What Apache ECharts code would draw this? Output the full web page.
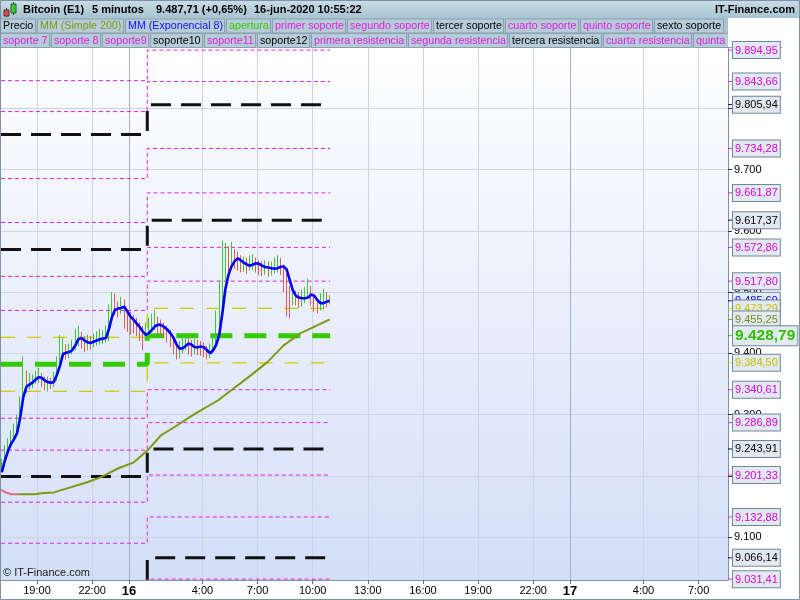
<!DOCTYPE html>
<html><head><meta charset="utf-8">
<script src="https://cdn.jsdelivr.net/npm/echarts@6/dist/echarts.min.js"></script>
<style>html,body{margin:0;padding:0;background:#fff}#c{width:800px;height:600px}</style>
</head><body><div id="c"></div>
<script>
// ---------- DATA ----------
// Hours counted from 15-jun-2020 00:00
const xMin = 17.04, xMax = 56.6, yMin = 9030, yMax = 9900;
const dayBreakHour = 25;      // 16-jun 01:00 levels switch
const levelEndHour = 34.95;   // end of drawn levels
const barStartHour = 17 + 5/60;   // first bar 15-jun 17:05
const barStepHours = 10/60;       // 10-minute bars
const firstOpen = 9210;

const barClose = [
 9218,9240,9252,9262,9270,9285,9320,9350,9348,9352,
 9355,9362,9364,9357,9350,9352,9350,9358,9380,9398,
 9405,9400,9404,9410,9422,9428,9422,9416,9418,9416,
 9420,9423,9424,9425,9428,9455,9478,9475,9470,9478,
 9470,9455,9450,9448,9442,9435,9428,9438,9445,9448,
 9450,9445,9442,9436,9430,9420,9410,9402,9408,9415,
 9418,9412,9408,9411,9410,9408,9404,9398,9404,9418,
 9440,9480,9540,9560,9550,9556,9553,9548,9545,9546,
 9544,9547,9549,9543,9540,9538,9540,9537,9538,9542,
 9545,9540,9525,9495,9488,9492,9490,9488,9491,9495,
 9505,9492,9480,9478,9484,9488,9486,9487.71];
const barHigh = [
 9228,9250,9262,9275,9285,9300,9330,9395,9372,9368,
 9366,9372,9376,9368,9362,9362,9360,9370,9395,9430,
 9425,9415,9416,9422,9440,9445,9435,9428,9430,9428,
 9432,9436,9440,9438,9445,9480,9500,9498,9485,9492,
 9488,9472,9468,9462,9458,9450,9445,9450,9458,9465,
 9470,9460,9455,9450,9445,9438,9428,9418,9420,9428,
 9430,9425,9422,9424,9422,9420,9418,9412,9416,9432,
 9470,9520,9584,9580,9575,9582,9570,9566,9560,9558,
 9556,9560,9562,9556,9552,9550,9552,9550,9550,9556,
 9560,9556,9545,9530,9510,9505,9502,9500,9504,9508,
 9522,9510,9495,9490,9498,9505,9500,9495];
const barLow = [
 9205,9215,9235,9248,9258,9265,9280,9320,9335,9340,
 9343,9350,9352,9345,9340,9338,9342,9345,9355,9378,
 9392,9390,9392,9398,9405,9412,9408,9402,9405,9406,
 9410,9412,9414,9415,9418,9420,9455,9462,9458,9464,
 9440,9435,9430,9432,9428,9420,9405,9420,9428,9435,
 9438,9432,9430,9425,9418,9410,9398,9390,9392,9400,
 9405,9398,9395,9398,9397,9396,9394,9390,9392,9400,
 9410,9430,9470,9520,9530,9538,9538,9535,9532,9533,
 9530,9535,9536,9532,9528,9526,9528,9525,9527,9530,
 9532,9528,9500,9460,9457,9478,9478,9474,9476,9482,
 9490,9478,9468,9465,9470,9472,9475,9480];
const emaValues = [
 9206,9225,9240,9252,9260,9270,9295,9328,9345,9349,
 9352,9357,9361,9360,9356,9353,9352,9353,9365,9380,
 9399,9401,9402,9405,9413,9423,9425,9421,9418,9417,
 9419,9421,9423,9424,9425,9440,9460,9471,9473,9474,
 9476,9468,9460,9455,9449,9443,9436,9430,9433,9438,
 9444,9447,9446,9443,9439,9433,9426,9415,9408,9408,
 9412,9416,9414,9410,9410,9411,9410,9405,9400,9405,
 9414,9430,9465,9505,9528,9542,9550,9555,9552,9548,
 9545,9543,9545,9547,9546,9543,9541,9540,9539,9538,
 9539,9541,9542,9537,9520,9503,9494,9491,9490,9490,
 9491,9496,9494,9487,9482,9482,9484,9485.69];
const emaLast = 9485.69;

const smaRedHours  = [17.04, 17.3, 17.6, 17.98];
const smaRedValues = [9177, 9173, 9170, 9170];
const smaHours  = [17.98,18.84,19.38,19.92,20.68,21.77,22.48,23.40,24.27,25.03,25.74,26.55,27.37,27.91,28.84,29.71,30.63,31.55,32.42,33.35,34.27,34.92];
const smaValues = [9170,9170,9172,9173,9180,9190,9198,9212,9222,9242,9266,9281,9297,9307,9323,9343,9364,9386,9413,9433,9446,9455.25];
const smaLast = 9455.25;

// support / resistance levels: value on 15-jun (left) and on 16-jun (right)
const levelsDay15 = [9845.1,9794.6,9757.0,9685.3,9613.6,9569.6,9525.5,9470.0,9426.0,9382.0,9338.0,9294.0,9242.0,9199.0,9157.0,9090.0,9024.0,8990.0];
const levelsDay16 = [9894.95,9843.66,9805.94,9734.28,9661.87,9617.37,9572.86,9517.80,9473.29,9428.79,9384.50,9340.61,9286.89,9243.91,9201.33,9132.88,9066.14,9031.41];
const levelKinds  = ['p','p','b','p','p','b','p','p','y','g','y','p','p','b','p','p','b','p'];

const xTickHours  = [19,22,24,28,31,34,37,40,43,46,48,52,55];
const xTickLabels = ['19:00','22:00','16','4:00','7:00','10:00','13:00','16:00','19:00','22:00','17','4:00','7:00'];
const dayHours = [24, 48];
const yTicks = [9100,9200,9300,9400,9500,9600,9700,9800];

const titleParts = ['Bitcoin (E1)','5 minutos','9.487,71 (+0,65%)','16-jun-2020 10:55:22'];
const legendRow1 = ['Precio','MM (Simple 200)','MM (Exponencial 8)','apertura','primer soporte','segundo soporte','tercer soporte','cuarto soporte','quinto soporte','sexto soporte'];
const legendRow1Kinds = ['k','o','e','g','p','p','k','p','p','k'];
const legendRow2 = ['soporte 7','soporte 8','soporte9','soporte10','soporte11','soporte12','primera resistencia','segunda resistencia','tercera resistencia','cuarta resistencia','quinta resistencia'];
const legendRow2Kinds = ['p','p','p','k','p','k','p','p','k','p','p'];

// ---------- STYLE ----------
const FONT = '"Liberation Sans", Arial, sans-serif';
const COL = {p:'#e61ee6', b:'#111111', k:'#000000', y:'#d2c800', g:'#33cc00', o:'#7c9a14', e:'#0000ff'};
const LABEL_TXT = {p:'#dd00dd', b:'#000000', y:'#c8be00', g:'#2fc000'};
const levelStyle = {
  p:{width:1, type:[4,3]},
  b:{width:3, type:[20,10]},
  y:{width:1.3, type:[14,12]},
  g:{width:5, type:[22,12]}
};

function fmtNum(v, dec){
  const s = v.toFixed(dec);
  let parts = s.split('.');
  let ip = parts[0].replace(/\B(?=(\d{3})+(?!\d))/g, '.');
  return parts[1] ? ip + ',' + parts[1] : ip;
}

function axisLabelMark(value, color, txtColor, z, big){
  return {
    silent:true, symbol:'none', z:z, animation:false,
    lineStyle:{width:1, color:'rgba(0,0,0,0)', type:'solid'},
    data:[{yAxis:value}],
    label:{
      show:true, position:'end', distance:0,
      formatter:'{t|}{b|' + fmtNum(value,2) + '}',
      rich:{
        t:{width:5, height:1, backgroundColor:color},
        b:{color:txtColor, fontFamily:FONT, fontSize: big?15.5:11, fontWeight: big?'bold':'normal',
           backgroundColor:'#e3e9f1', borderColor:'#71879a', borderWidth:1,
           padding: big?[2,2,1,2]:[3,2,2,2], lineHeight: big?16:11}
      }
    }
  };
}

// ---------- SERIES ----------
const candleData = barClose.map((c,i)=>{
  const o = i===0 ? firstOpen : barClose[i-1];
  return [barStartHour + i*barStepHours, o, c, barLow[i], barHigh[i]];
});
const emaData = emaValues.map((v,i)=>[barStartHour + i*barStepHours, v]);

const series = [];
series.push({
  type:'line', data:[], silent:true, z:1,
  markLine:{silent:true, symbol:'none', z:1, animation:false,
    lineStyle:{color:'#a5b0c8', width:1, type:'solid'}, label:{show:false},
    data: dayHours.map(h=>({xAxis:h}))}
});
levelKinds.forEach((k,i)=>{
  const L = levelsDay15[i], R = levelsDay16[i];
  series.push({
    type:'line', z:2, silent:true, showSymbol:false, animation:false,
    data:[[xMin,L],[dayBreakHour,L],[dayBreakHour,R],[levelEndHour,R]],
    lineStyle:{color:COL[k], width:levelStyle[k].width, type:levelStyle[k].type, cap:'butt'},
    markLine: axisLabelMark(R, COL[k], LABEL_TXT[k], 20+2*i, k==='g')
  });
});
series.push({
  type:'line', z:3, silent:true, showSymbol:false, animation:false,
  data: smaRedHours.map((h,i)=>[h, smaRedValues[i]]),
  lineStyle:{color:'#e2687a', width:2}
});
series.push({
  type:'line', z:3, silent:true, showSymbol:false, animation:false,
  data: smaHours.map((h,i)=>[h, smaValues[i]]),
  lineStyle:{color:COL.o, width:2},
  markLine: axisLabelMark(smaLast, COL.o, '#6f8c10', 20+2*9-1, false)
});
series.push({
  type:'candlestick', z:4, silent:true, animation:false,
  data: candleData, encode:{x:0, y:[1,2,3,4]},
  barWidth:1,
  itemStyle:{color:'#3cc43c', color0:'#e05a5a', borderColor:'#3cc43c', borderColor0:'#e05a5a', borderWidth:1}
});
series.push({
  type:'line', z:5, silent:true, showSymbol:false, animation:false,
  data: emaData,
  lineStyle:{color:COL.e, width:2.6},
  markLine: axisLabelMark(emaLast, COL.e, '#0000ff', 20+2*8-1, false)
});

// ---------- GRAPHICS (header / legend) ----------
const measure = (()=>{const c=document.createElement('canvas').getContext('2d');
  return (t,f)=>{c.font=f; return c.measureText(t).width;};})();
const legFont = '10.7px "Liberation Sans"';
const legTxtCol = {k:'#000000', o:'#7c9a14', e:'#1010ff', g:'#33cc00', p:'#e01ee0'};

const graphics = [];
graphics.push({type:'rect', z:10, shape:{x:0,y:0,width:800,height:18},
  style:{fill:{type:'linear',x:0,y:0,x2:0,y2:1,colorStops:[{offset:0,color:'#c9dde7'},{offset:1,color:'#a8c3d1'}]}}});
// small candle icon
graphics.push({type:'line', z:11, shape:{x1:6.5,y1:8,x2:6.5,y2:17}, style:{stroke:'#333',lineWidth:1}});
graphics.push({type:'rect', z:11, shape:{x:4,y:10,width:5,height:6}, style:{fill:'#e04848',stroke:'#553333',lineWidth:1}});
graphics.push({type:'line', z:11, shape:{x1:13.5,y1:2,x2:13.5,y2:15}, style:{stroke:'#333',lineWidth:1}});
graphics.push({type:'rect', z:11, shape:{x:11,y:4,width:5,height:9}, style:{fill:'#38c838',stroke:'#335533',lineWidth:1}});
const titleX = [23, 92, 156, 254];
titleParts.forEach((t,i)=>graphics.push({type:'text', z:11, x:titleX[i], y:10,
  style:{text:t, font:'bold 11px '+FONT, fill:'#000', textVerticalAlign:'middle'}}));
graphics.push({type:'text', z:11, x:795, y:10,
  style:{text:'IT-Finance.com', font:'bold 11px '+FONT, fill:'#000', textAlign:'right', textVerticalAlign:'middle'}});

function legendRow(names, kinds, y){
  let x = 0;
  names.forEach((n,i)=>{
    const w = Math.round(measure(n, legFont) + 4.4);
    graphics.push({type:'rect', z:10, shape:{x:x+0.5,y:y+0.5,width:w,height:14},
      style:{fill:'#b6ccd8', stroke:'#8aa0ae', lineWidth:1}});
    graphics.push({type:'text', z:11, x:x+3, y:y+8,
      style:{text:n, font:legFont, fill:legTxtCol[kinds[i]], textVerticalAlign:'middle'}});
    x += w + 2;
  });
}
graphics.push({type:'rect', z:9, shape:{x:0,y:18,width:728,height:30}, style:{fill:'#aac3d0'}});
legendRow(legendRow1, legendRow1Kinds, 18.5);
legendRow(legendRow2, legendRow2Kinds, 33);
graphics.push({type:'rect', z:12, shape:{x:728,y:18,width:72,height:29}, style:{fill:'#ffffff'}});
graphics.push({type:'text', z:103, x:3, y:573,
  style:{text:'\u00a9 IT-Finance.com', font:'11px '+FONT, fill:'#1a1a1a', textVerticalAlign:'middle'}});
graphics.push({type:'rect', z:104, shape:{x:0.5,y:0.5,width:799,height:599},
  style:{fill:null, stroke:'#7d93a3', lineWidth:1}});
graphics.push({type:'line', z:104, shape:{x1:0.5,y1:47,x2:0.5,y2:580}, style:{stroke:'#7d93a3',lineWidth:1}});

// ---------- CHART ----------
const chart = echarts.init(document.getElementById('c'), null, {renderer:'canvas', width:800, height:600});
chart.setOption({
  animation:false,
  backgroundColor:'#ffffff',
  textStyle:{fontFamily:FONT},
  grid:{left:1, right:72, top:47, bottom:20, show:true, borderWidth:0,
    backgroundColor:{type:'linear',x:0,y:0,x2:0,y2:1,colorStops:[{offset:0,color:'#ffffff'},{offset:1,color:'#d3def8'}]}},
  xAxis:{type:'value', min:xMin, max:xMax,
    axisLine:{show:true, onZero:false, lineStyle:{color:'#7d93a3'}},
    axisTick:{show:true, customValues:xTickHours, length:4, lineStyle:{color:'#5d7180'}},
    axisLabel:{customValues:xTickHours, color:'#000', fontSize:11, fontFamily:FONT, margin:5,
      formatter:(v)=>{const i = xTickHours.indexOf(Math.round(v*1000)/1000); if(i<0) return '';
        return dayHours.indexOf(xTickHours[i])>=0 ? '{d|'+xTickLabels[i]+'}' : xTickLabels[i];},
      rich:{d:{fontWeight:'bold', fontSize:13, fontFamily:FONT, color:'#000'}}},
    splitLine:{show:true, lineStyle:{color:'#cdd4e4', width:1}}
  },
  yAxis:{type:'value', position:'right', min:yMin, max:yMax, scale:true,
    axisLine:{show:true, lineStyle:{color:'#7d93a3'}},
    axisTick:{show:true, customValues:yTicks, length:4, lineStyle:{color:'#333'}},
    axisLabel:{customValues:yTicks, color:'#000', fontSize:11, fontFamily:FONT, margin:6,
      formatter:(v)=>fmtNum(v,0)},
    splitLine:{show:true, lineStyle:{color:'#cdd4e4', width:1}}
  },
  series: series,
  graphic: graphics
});
</script></body></html>
